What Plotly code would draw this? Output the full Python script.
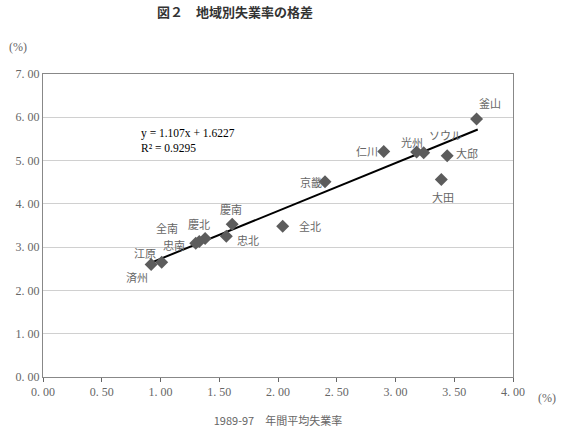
import plotly.graph_objects as go

regions = ["釜山", "ソウル", "光州", "仁川", "大邱", "大田", "京畿", "全北",
           "慶南", "忠北", "慶北", "忠南", "全南", "江原", "済州"]
avg_8997 = [3.69, 3.24, 3.18, 2.90, 3.44, 3.39, 2.40, 2.04,
            1.61, 1.56, 1.38, 1.33, 1.30, 1.01, 0.92]
rate_now = [5.96, 5.18, 5.20, 5.21, 5.11, 4.56, 4.51, 3.48,
            3.53, 3.25, 3.20, 3.13, 3.09, 2.65, 2.60]
# label offsets in pixels (dx, dy) relative to point
label_dx = [13, 22, -5, -17, 20, 2, -14, 27, -1, 22, -6, -25, -29, -17, -14]
label_dy = [16, 18, 10, 0, 3, -17, 0, 0, 15, -4, 14, -3, 15, 9, -13]

slope, intercept, r2 = 1.107, 1.6227, 0.9295
x_ticks = [0, 0.5, 1.0, 1.5, 2.0, 2.5, 3.0, 3.5, 4.0]
y_ticks = [0, 1, 2, 3, 4, 5, 6, 7]

serif = "Liberation Serif"
cjk = "Noto Sans CJK JP"
gray = "#666666"

fig = go.Figure()
fit_x = [min(avg_8997) - 0.02, max(avg_8997) + 0.01]
fig.add_trace(go.Scatter(x=fit_x, y=[slope * v + intercept for v in fit_x],
                         mode="lines", line=dict(color="black", width=2),
                         hoverinfo="skip", showlegend=False))
fig.add_trace(go.Scatter(x=avg_8997, y=rate_now, mode="markers",
                         marker=dict(symbol="diamond", size=10, color="#5c5c5c"),
                         showlegend=False))

for name, xv, yv, dx, dy in zip(regions, avg_8997, rate_now, label_dx, label_dy):
    fig.add_annotation(x=xv, y=yv, text=name, showarrow=False,
                       xshift=dx, yshift=dy,
                       font=dict(family=cjk, size=11, color=gray))

fig.add_annotation(x=0.82, y=5.83, xref="x", yref="y", xanchor="left", yanchor="top",
                   text=f"y = {slope}x + {intercept}<br>R² = {r2}",
                   showarrow=False, align="left",
                   font=dict(family=serif, size=11.5, color="black"))

fig.add_annotation(xref="paper", yref="paper", x=-0.053, y=1.088, text="(%)",
                   showarrow=False, xanchor="center", yanchor="middle",
                   font=dict(family=serif, size=12, color=gray))
fig.add_annotation(xref="paper", yref="paper", x=1.072, y=-0.07, text="(%)",
                   showarrow=False, xanchor="center", yanchor="middle",
                   font=dict(family=serif, size=12, color=gray))
fig.add_annotation(xref="paper", yref="paper", x=0.4085, y=1.205,
                   text="<b>図２　地域別失業率の格差</b>",
                   showarrow=False, xanchor="center", yanchor="middle",
                   font=dict(family=cjk, size=13, color="#333"))

fig.update_xaxes(range=[0, 4], tickvals=x_ticks,
                 ticktext=[f"{v:.2f}".replace(".", ". ") for v in x_ticks],
                 showgrid=False, zeroline=False, showline=True, linecolor="#888",
                 linewidth=1, mirror=True, ticks="outside", ticklen=4, tickcolor="#666",
                 tickfont=dict(family=serif, size=12, color=gray),
                 title=dict(text="1989-97　年間平均失業率",
                            font=dict(family=cjk, size=11, color=gray), standoff=18))
fig.update_yaxes(range=[0, 7], tickvals=y_ticks,
                 ticktext=[f"{v:.2f}".replace(".", ". ") for v in y_ticks],
                 showgrid=True, gridcolor="#d0d0d0", gridwidth=1, zeroline=False,
                 showline=True, linecolor="#888", linewidth=1, mirror=True,
                 ticks="", tickfont=dict(family=serif, size=12, color=gray))

fig.update_layout(width=566, height=437, plot_bgcolor="white", paper_bgcolor="white",
                  margin=dict(l=43, r=53, t=74, b=56), showlegend=False)
fig.write_html("out.html")
